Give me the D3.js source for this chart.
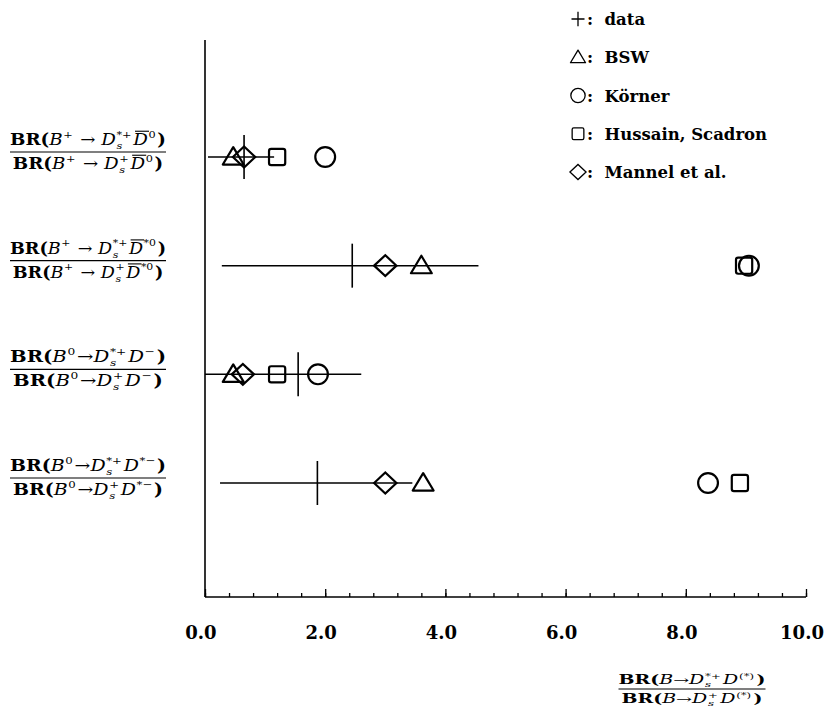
<!DOCTYPE html>
<html><head><meta charset="utf-8">
<script src="https://cdn.jsdelivr.net/npm/d3@7"></script>
<style>body{margin:0;background:#fff}svg{display:block}</style>
</head><body>
<script>
// ---------------- data ----------------
const rows = [0, 1, 2, 3];
const dataValue = [0.65, 2.45, 1.55, 1.87];
const dataLow   = [0.05, 0.28, 0.0, 0.25];
const dataHigh  = [1.15, 4.55, 2.6, 3.45];
const bswValue     = [0.47, 3.6, 0.47, 3.63];
const kornerValue  = [2.0, 9.05, 1.88, 8.37];
const hussainValue = [1.2, 8.97, 1.2, 8.9];
const mannelValue  = [0.65, 3.0, 0.63, 3.0];
const xTicks = [0, 2, 4, 6, 8, 10];
const xTickLabels = ["0.0", "2.0", "4.0", "6.0", "8.0", "10.0"];
const legendLabels = ["data", "BSW", "Körner", "Hussain, Scadron", "Mannel et al."];
const legendSymbols = ["plus", "triangle", "circle", "square", "diamond"];

// row label tokens (numerator / denominator)
const rowNum = [
  [{t:"BR(",f:"b"},{t:"B",f:"i"},{sup:"+"},{t:" → ",f:"n"},{t:"D",f:"i"},{sup:"*+",sub:"s"},{t:"D",f:"i",bar:true},{sup:"0"},{t:")",f:"b"}],
  [{t:"BR(",f:"b"},{t:"B",f:"i"},{sup:"+"},{t:" → ",f:"n"},{t:"D",f:"i"},{sup:"*+",sub:"s"},{t:"D",f:"i",bar:true},{sup:"*0"},{t:")",f:"b"}],
  [{t:"BR(",f:"b"},{t:"B",f:"i"},{sup:"0"},{t:"→",f:"n"},{t:"D",f:"i"},{sup:"*+",sub:"s"},{t:"D",f:"i"},{sup:"−"},{t:")",f:"b"}],
  [{t:"BR(",f:"b"},{t:"B",f:"i"},{sup:"0"},{t:"→",f:"n"},{t:"D",f:"i"},{sup:"*+",sub:"s"},{t:"D",f:"i"},{sup:"*−"},{t:")",f:"b"}]
];
const rowDen = [
  [{t:"BR(",f:"b"},{t:"B",f:"i"},{sup:"+"},{t:" → ",f:"n"},{t:"D",f:"i"},{sup:"+",sub:"s"},{t:"D",f:"i",bar:true},{sup:"0"},{t:")",f:"b"}],
  [{t:"BR(",f:"b"},{t:"B",f:"i"},{sup:"+"},{t:" → ",f:"n"},{t:"D",f:"i"},{sup:"+",sub:"s"},{t:"D",f:"i",bar:true},{sup:"*0"},{t:")",f:"b"}],
  [{t:"BR(",f:"b"},{t:"B",f:"i"},{sup:"0"},{t:"→",f:"n"},{t:"D",f:"i"},{sup:"+",sub:"s"},{t:"D",f:"i"},{sup:"−"},{t:")",f:"b"}],
  [{t:"BR(",f:"b"},{t:"B",f:"i"},{sup:"0"},{t:"→",f:"n"},{t:"D",f:"i"},{sup:"+",sub:"s"},{t:"D",f:"i"},{sup:"*−"},{t:")",f:"b"}]
];
const xLabelNum = [{t:"BR(",f:"b"},{t:"B",f:"i"},{t:"→",f:"n"},{t:"D",f:"i"},{sup:"*+",sub:"s"},{t:"D",f:"i"},{sup:"(*)"},{t:")",f:"b"}];
const xLabelDen = [{t:"BR(",f:"b"},{t:"B",f:"i"},{t:"→",f:"n"},{t:"D",f:"i"},{sup:"+",sub:"s"},{t:"D",f:"i"},{sup:"(*)"},{t:")",f:"b"}];

// ---------------- drawing ----------------
const W = 827, H = 715;
const FONT = "'DejaVu Serif', 'Liberation Serif', serif";
const svg = d3.select("body").append("svg").attr("width", W).attr("height", H);

const x = d3.scaleLinear().domain([0, 10]).range([205, 806]);
const y = d3.scaleLinear().domain([0, 3]).range([157, 483]);
const axisY = 597, axisTop = 40;

// axes lines
svg.append("line").attr("x1", x(0)).attr("x2", x(0)).attr("y1", axisTop).attr("y2", axisY)
  .attr("stroke", "#000").attr("stroke-width", 1.6);
svg.append("line").attr("x1", x(0)).attr("x2", x(10)).attr("y1", axisY).attr("y2", axisY)
  .attr("stroke", "#000").attr("stroke-width", 1.6);

// ticks via d3 axis (pointing inward / up)
const minorTicks = d3.range(0, 10.0001, 0.4);
const gMinor = svg.append("g").attr("transform", `translate(0,${axisY})`)
  .call(d3.axisTop(x).tickValues(minorTicks).tickSize(4).tickFormat(""));
const gMajor = svg.append("g").attr("transform", `translate(0,${axisY})`)
  .call(d3.axisTop(x).tickValues(xTicks).tickSize(8).tickFormat(""));
[gMinor, gMajor].forEach(g => {
  g.select(".domain").remove();
  g.selectAll("line").attr("stroke", "#000").attr("stroke-width", 1.3);
});
// tick labels
svg.append("g").selectAll("text").data(xTicks).join("text")
  .attr("x", d => x(d) - 4).attr("y", 639)
  .attr("text-anchor", "middle").attr("font-family", FONT).attr("font-weight", "bold")
  .attr("font-size", 18).text((d, i) => xTickLabels[i]);

// math layout helpers
function layoutMath(g, tokens, fs) {
  let cx = 0;
  const style = (el, f, size) => {
    el.attr("font-family", FONT).attr("font-size", size).attr("fill", "#000");
    if (f === "b") el.attr("font-weight", "bold");
    if (f === "i") el.attr("font-style", "italic");
    return el;
  };
  tokens.forEach(tok => {
    if (tok.t !== undefined) {
      const el = style(g.append("text").attr("x", cx).attr("y", 0).attr("xml:space", "preserve"), tok.f, fs).text(tok.t);
      const w = el.node().getComputedTextLength();
      if (tok.bar) {
        g.append("line").attr("x1", cx + 1.5).attr("x2", cx + w + 1).attr("y1", -fs * 0.86).attr("y2", -fs * 0.86)
          .attr("stroke", "#000").attr("stroke-width", 1.1);
      }
      cx += w;
    } else {
      const sfs = fs * 0.62;
      let w1 = 0, w2 = 0;
      if (tok.sup) {
        const e = style(g.append("text").attr("x", cx + 0.5).attr("y", -fs * 0.45), "n", sfs).text(tok.sup);
        w1 = e.node().getComputedTextLength();
      }
      if (tok.sub) {
        const e = style(g.append("text").attr("x", cx + 0.5).attr("y", fs * 0.25), "i", sfs).text(tok.sub);
        w2 = e.node().getComputedTextLength();
      }
      cx += Math.max(w1, w2) + 2;
    }
  });
  return cx;
}
function fraction(g, numT, denT, fs, cx, yNum, yLine, yDen, targetW) {
  const num = g.append("g"), den = g.append("g");
  const wn = layoutMath(num, numT, fs), wd = layoutMath(den, denT, fs);
  const w = Math.max(wn, wd);
  const sx = targetW ? targetW / w : 1;
  num.attr("transform", `translate(${cx - wn * sx / 2},${yNum}) scale(${sx},1)`);
  den.attr("transform", `translate(${cx - wd * sx / 2},${yDen}) scale(${sx},1)`);
  g.append("line").attr("x1", cx - w * sx / 2).attr("x2", cx + w * sx / 2)
    .attr("y1", yLine).attr("y2", yLine).attr("stroke", "#000").attr("stroke-width", 1.2);
}

// row labels
rows.forEach(r => {
  const yc = y(r);
  fraction(svg.append("g"), rowNum[r], rowDen[r], 16, 88, yc - 12, yc - 5, yc + 12, 156);
});
// x axis label
fraction(svg.append("g"), xLabelNum, xLabelDen, 12, 692, 684, 689, 703, 147);

// marker generators
function drawSymbol(g, type, cx, cy, s, sw) {
  const st = el => el.attr("fill", "none").attr("stroke", "#000").attr("stroke-width", sw);
  if (type === "triangle") {
    st(g.append("path").attr("d", `M${cx - s * 0.58},${cy + s * 0.42} L${cx},${cy - s * 0.55} L${cx + s * 0.58},${cy + s * 0.42} Z`).attr("stroke-linejoin", "round"));
  } else if (type === "circle") {
    st(g.append("circle").attr("cx", cx).attr("cy", cy).attr("r", s * 0.55));
  } else if (type === "square") {
    st(g.append("rect").attr("x", cx - s * 0.45).attr("y", cy - s * 0.45).attr("width", s * 0.9).attr("height", s * 0.9).attr("rx", s * 0.12));
  } else if (type === "diamond") {
    st(g.append("path").attr("d", `M${cx - s * 0.62},${cy} L${cx},${cy - s * 0.58} L${cx + s * 0.62},${cy} L${cx},${cy + s * 0.58} Z`));
  } else if (type === "plus") {
    st(g.append("path").attr("d", `M${cx - s * 0.5},${cy} H${cx + s * 0.5} M${cx},${cy - s * 0.55} V${cy + s * 0.55}`));
  }
}

const gData = svg.append("g");
// error bars
gData.selectAll("line.err").data(rows).join("line").attr("class", "err")
  .attr("x1", r => x(dataLow[r])).attr("x2", r => x(dataHigh[r]))
  .attr("y1", r => y(r)).attr("y2", r => y(r))
  .attr("stroke", "#000").attr("stroke-width", 1.5);
// data crosses (vertical)
gData.selectAll("line.cross").data(rows).join("line").attr("class", "cross")
  .attr("x1", r => x(dataValue[r])).attr("x2", r => x(dataValue[r]))
  .attr("y1", r => y(r) - 22).attr("y2", r => y(r) + 22)
  .attr("stroke", "#000").attr("stroke-width", 1.6);

const models = [
  {vals: bswValue, type: "triangle"},
  {vals: mannelValue, type: "diamond"},
  {vals: hussainValue, type: "square"},
  {vals: kornerValue, type: "circle"}
];
models.forEach(m => {
  rows.forEach(r => drawSymbol(gData, m.type, x(m.vals[r]), y(r), 18, 2.2));
});

// legend
const legY = d3.scaleLinear().domain([0, 4]).range([25, 178]);
legendLabels.forEach((lab, i) => {
  drawSymbol(svg, legendSymbols[i], 578, legY(i) - 6, 13, 1.3);
  svg.append("text").attr("x", 587).attr("y", legY(i))
    .attr("font-family", FONT).attr("font-weight", "bold").attr("font-size", 16.5)
    .attr("xml:space", "preserve").text(":  " + lab);
});
</script>
</body></html>
